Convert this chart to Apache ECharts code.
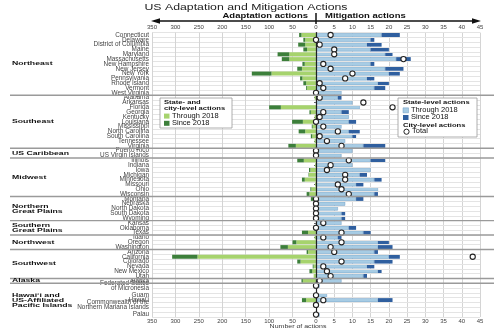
<!DOCTYPE html>
<html><head><meta charset="utf-8">
<script src="https://cdn.jsdelivr.net/npm/echarts@6/dist/echarts.min.js"></script>
<style>html,body{margin:0;padding:0;background:#fff}#c{width:494px;height:330px}</style>
</head><body><div id="c"></div>
<script>
const states = ["Connecticut","Delaware","District of Columbia","Maine","Maryland","Massachusetts","New Hampshire","New Jersey","New York","Pennsylvania","Rhode Island","Vermont","West Virginia",
"Alabama","Arkansas","Florida","Georgia","Kentucky","Louisiana","Mississippi","North Carolina","South Carolina","Tennessee","Virginia",
"Puerto Rico","US Virgin Islands",
"Illinois","Indiana","Iowa","Michigan","Minnesota","Missouri","Ohio","Wisconsin",
"Montana","Nebraska","North Dakota","South Dakota","Wyoming",
"Kansas","Oklahoma","Texas",
"Idaho","Oregon","Washington",
"Arizona","California","Colorado","Nevada","New Mexico","Utah",
"Alaska",
"Federated States\nof Micronesia","","Guam","Hawaiʻi","Commonwealth of the\nNorthern Mariana Islands","","Palau"];

const adaptThrough2018 = [31,23,23,19,57,57,24,30,95,29,21,19,3,
 3,0,75,11,3,28,7,23,8,3,43,
 0,0,
 26,2,12,15,24,2,10,14,
 6,0,0,0,0,
 0,0,17,
 3,42,60,
 17,253,33,5,8,5,
 28,
 0,null,0,21,0,null,0];
const adaptSince2018 = [5,4,15,8,25,16,5,10,42,5,6,2,0,
 0,0,25,3,0,23,2,14,3,0,16,
 0,0,
 14,0,3,1,6,0,2,6,
 5,0,0,0,0,
 0,0,13,
 0,8,16,
 3,54,7,2,6,0,
 3,
 0,null,0,9,0,null,0];
const mitigThrough2018 = [18,15,14,15,19,22,15,19,20,14,17,16,7,
 6,10,12,7,9,9,7,9,10,8,13,
 10,7,
 15,10,15,12,16,11,17,16,
 11,8,6,7,7,
 7,9,13,
 6,17,17,
 16,20,16,14,17,13,
 7,
 1,null,3,17,0,null,1];
const mitigSince2018 = [5,1,4,5,2,4,1,5,3,2,3,3,0,
 1,0,0,2,0,2,0,3,1,0,6,
 0,0,
 4,0,0,2,2,2,0,1,
 2,0,0,1,1,
 0,2,2,
 1,3,4,
 1,3,5,2,1,1,
 0,
 0,null,0,4,0,null,0];
const cityTotal = [4,0,1,5,5,24,2,4,10,8,1,2,0,
 1,13,21,2,1,0,2,6,1,3,7,
 0,0,
 9,4,3,8,8,6,7,9,
 0,0,0,0,0,
 2,0,7,
 2,7,4,
 5,43,7,2,3,4,
 1,
 0,null,0,2,0,null,0];

const regionNames = ["Northeast","Southeast","US Caribbean","Midwest","Northern\nGreat Plains","Southern\nGreat Plains","Northwest","Southwest","Alaska","Hawaiʻi and\nUS-Affiliated\nPacific Islands"];
const regionFirst = [0,13,24,26,34,39,42,45,51,52];
const regionLast  = [12,23,25,33,38,41,44,50,51,58];

const adaptTicks = [0,50,100,150,200,250,300,350];
const mitigTicks = [0,5,10,15,20,25,30,35,40,45];

const FONT = '"Liberation Sans", Arial, Helvetica, sans-serif';
const C_LG = '#a6d36d', C_DG = '#3c7f3a', C_LB = '#a7cce4', C_DB = '#2f5f9f';

const chart = echarts.init(document.getElementById('c'), null, {renderer:'canvas'});
const gridTop = 32.6, gridH = 284.4;
function xAx(grid, pos, ticks, inv, split){
  return {gridIndex:grid, type:'value', position:pos, inverse:inv,
    min:ticks[0], max:ticks[ticks.length-1], interval:ticks[1]-ticks[0],
    axisLine:{show:false}, axisTick:{show:false},
    axisLabel:{fontSize:6, color:'#444', margin:pos==='top'?2.5:1.5, showMinLabel:!inv, fontFamily:FONT},
    splitLine:{show:split, lineStyle:{color:'#d4d4d4', width:1}}};
}
const option = {
  animation:false,
  textStyle:{fontFamily:FONT},
  grid:[{left:152, top:gridTop, width:164, height:gridH},
        {left:316, top:gridTop, width:164, height:gridH}],
  xAxis:[xAx(0,'top',adaptTicks,true,true), xAx(0,'bottom',adaptTicks,true,false),
         xAx(1,'top',mitigTicks,false,true), xAx(1,'bottom',mitigTicks,false,false)],
  yAxis:[
    {gridIndex:0, type:'category', data:states, inverse:true,
     axisLine:{show:false},
     axisTick:{show:true, length:2, alignWithLabel:true, interval:(i,v)=>v!=='', lineStyle:{color:'#666'}},
     axisLabel:{fontSize:6.4, color:'#444', margin:3, interval:0, lineHeight:5.3, fontFamily:FONT},
     splitLine:{show:true, interval:0, lineStyle:{color:'#e4e4e4'}}},
    {gridIndex:1, type:'category', data:states, inverse:true, z:10,
     axisLine:{show:true, lineStyle:{color:'#222', width:1.2}},
     axisTick:{show:false}, axisLabel:{show:false},
     splitLine:{show:true, interval:0, lineStyle:{color:'#e4e4e4'}}}
  ],
  series:[
    {type:'bar', xAxisIndex:0, yAxisIndex:0, stack:'adapt', data:adaptThrough2018, barWidth:4, itemStyle:{color:C_LG}},
    {type:'bar', xAxisIndex:0, yAxisIndex:0, stack:'adapt', data:adaptSince2018, barWidth:4, itemStyle:{color:C_DG}},
    {type:'bar', xAxisIndex:2, yAxisIndex:1, stack:'mitig', data:mitigThrough2018, barWidth:4, itemStyle:{color:C_LB, borderColor:'#6e9dc4', borderWidth:0.5}},
    {type:'bar', xAxisIndex:2, yAxisIndex:1, stack:'mitig', data:mitigSince2018, barWidth:4, itemStyle:{color:C_DB}},
    {type:'scatter', xAxisIndex:2, yAxisIndex:1, clip:false, z:12,
     data:cityTotal.map((v,i)=>v==null?null:[v,i]).filter(d=>d),
     symbol:'circle', symbolSize:5.2, itemStyle:{color:'#fff', borderColor:'#222', borderWidth:1.1, opacity:1}}
  ]
};
chart.setOption(option);

const rowY = i => chart.convertToPixel({yAxisIndex:0}, i);
const xL = chart.convertToPixel({xAxisIndex:0}, adaptTicks[adaptTicks.length-1]);
const x0 = chart.convertToPixel({xAxisIndex:2}, 0);
const xR = chart.convertToPixel({xAxisIndex:2}, mitigTicks[mitigTicks.length-1]);

const g = [];
function txt(x,y,text,size,opts){
  opts = opts||{};
  return {type:'text', x:x, y:y, scaleY:opts.sy||1, z:opts.z||60,
    style:{text:text, x:0, y:0, fontSize:size, fontWeight:opts.bold?'bold':'normal', fontFamily:FONT,
      fill:opts.fill||'#111', align:opts.align||'left', verticalAlign:'middle', lineHeight:opts.lh||size*1.2}};
}
for (let k=0;k<regionLast.length-1;k++){
  const yy = (rowY(regionLast[k])+rowY(regionFirst[k+1]))/2;
  g.push({type:'line', z:50, shape:{x1:10,y1:yy,x2:494,y2:yy}, style:{stroke:'#9a9a9a', lineWidth:1.4}});
}
for (let k=0;k<regionNames.length;k++){
  const yc = (rowY(regionFirst[k])+rowY(regionLast[k]))/2;
  g.push(txt(12, yc, regionNames[k], 8.7, {bold:true, sy:0.62, lh:8}));
}
g.push(txt(246, 7, 'US Adaptation and Mitigation Actions', 12.3, {align:'center', sy:0.75, fill:'#222'}));
g.push({type:'line', z:60, shape:{x1:xL+5,y1:21,x2:xR-5,y2:21}, style:{stroke:'#111', lineWidth:1.3}});
g.push({type:'polygon', z:60, shape:{points:[[xL-1,21],[xL+8,18.2],[xL+8,23.8]]}, style:{fill:'#111'}});
g.push({type:'polygon', z:60, shape:{points:[[xR+1,21],[xR-8,18.2],[xR-8,23.8]]}, style:{fill:'#111'}});
g.push({type:'line', z:60, shape:{x1:x0,y1:13,x2:x0,y2:24}, style:{stroke:'#111', lineWidth:1.5}});
g.push(txt(x0-8, 16.5, 'Adaptation actions', 9.5, {bold:true, align:'right', sy:0.72}));
g.push(txt(x0+9, 16.5, 'Mitigation actions', 9.5, {bold:true, align:'left', sy:0.72}));
g.push(txt(298, 326.3, 'Number of actions', 7, {align:'center', sy:0.85, fill:'#333'}));

g.push({type:'rect', z:58, shape:{x:160,y:98,width:72,height:30}, style:{fill:'#fff', stroke:'#999', lineWidth:0.8}});
g.push(txt(164, 102.3, 'State- and', 7.6, {bold:true, sy:0.8}));
g.push(txt(164, 108.3, 'city-level actions', 7.6, {bold:true, sy:0.8}));
g.push({type:'rect', z:60, shape:{x:164,y:113.6,width:5.5,height:5}, style:{fill:C_LG}});
g.push(txt(172, 116.2, 'Through 2018', 7.5, {sy:0.85}));
g.push({type:'rect', z:60, shape:{x:164,y:120.8,width:5.5,height:5}, style:{fill:C_DG}});
g.push(txt(172, 123.3, 'Since 2018', 7.5, {sy:0.85}));

g.push({type:'rect', z:58, shape:{x:398,y:98,width:79,height:39}, style:{fill:'#fff', stroke:'#999', lineWidth:0.8}});
g.push(txt(403, 102.3, 'State-level actions', 7.6, {bold:true, sy:0.8}));
g.push({type:'rect', z:60, shape:{x:403,y:107.8,width:5.5,height:5}, style:{fill:C_LB, stroke:'#6e9dc4', lineWidth:0.5}});
g.push(txt(411, 110.3, 'Through 2018', 7.5, {sy:0.85}));
g.push({type:'rect', z:60, shape:{x:403,y:115,width:5.5,height:5}, style:{fill:C_DB}});
g.push(txt(411, 117.5, 'Since 2018', 7.5, {sy:0.85}));
g.push(txt(403, 125, 'City-level actions', 7.6, {bold:true, sy:0.8}));
g.push({type:'circle', z:60, shape:{cx:406.5,cy:131.7,r:2.6}, style:{fill:'#fff', stroke:'#222', lineWidth:1}});
g.push(txt(412, 131.7, 'Total', 7.5, {sy:0.85}));

chart.setOption({graphic:g});
</script>
</body></html>
